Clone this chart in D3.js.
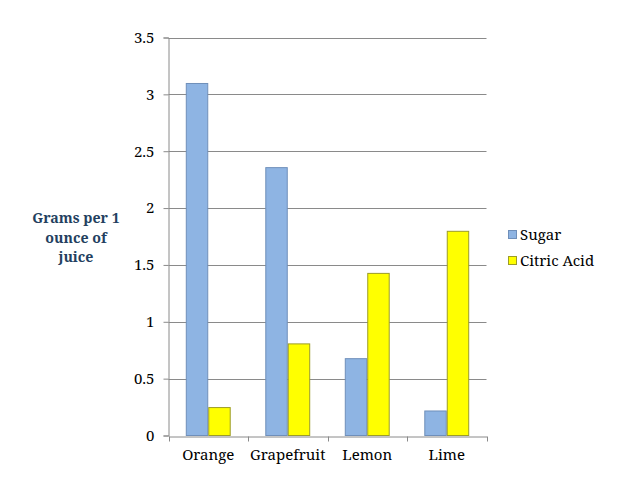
<!DOCTYPE html>
<html><head><meta charset="utf-8">
<script src="https://cdn.jsdelivr.net/npm/d3@7"></script>
<style>body{margin:0;background:#fff}svg{display:block}</style>
</head><body>
<svg id="c" width="640" height="483"></svg>
<script>
const categories = ["Orange", "Grapefruit", "Lemon", "Lime"];
const seriesNames = ["Sugar", "Citric Acid"];
const sugar = [3.1, 2.36, 0.68, 0.22];
const citricAcid = [0.25, 0.81, 1.43, 1.8];
const yTicks = [0, 0.5, 1, 1.5, 2, 2.5, 3, 3.5];
const yTickLabels = ["0", "0.5", "1", "1.5", "2", "2.5", "3", "3.5"];
const yTitleLines = ["Grams per 1", "ounce of", "juice"];

const colors = ["#8EB4E3", "#FFFF00"];
const strokes = ["#6F8FBA", "#9C9C28"];
const font = '"Noto Serif"';
const fs = "15px";

const svg = d3.select("#c");
const x0 = 168.5, x1 = 486.5, yTop = 37.5, yBot = 435.5;
const x = d3.scaleBand().domain(categories).range([x0, x1]).paddingInner(0).paddingOuter(0);
const y = d3.scaleLinear().domain([0, 3.5]).range([yBot, yTop]);
const xs = d3.scaleBand().domain(seriesNames).range([0, x.bandwidth()]).paddingInner(0).paddingOuter(0.77);

// gridlines
svg.append("g").selectAll("line").data(yTicks.filter(d => d > 0)).join("line")
  .attr("x1", x0).attr("x2", x1)
  .attr("y1", d => Math.round(y(d)) + 0.5).attr("y2", d => Math.round(y(d)) + 0.5)
  .attr("stroke", "#8a8a8a").attr("stroke-width", 1);

// y axis
const yAxis = d3.axisLeft(y).tickValues(yTicks).tickFormat((d, i) => yTickLabels[i]).tickSize(5).tickPadding(9);
const gy = svg.append("g").attr("transform", `translate(${x0},0)`).call(yAxis);
gy.select(".domain").attr("stroke", "#8a8a8a");
gy.selectAll(".tick line").attr("stroke", "#8a8a8a");
gy.selectAll(".tick text").style("font-family", font).style("font-size", fs).attr("fill", "#000");

// bars
const data = [sugar, citricAcid];
seriesNames.forEach((s, si) => {
  svg.append("g").selectAll("rect").data(categories).join("rect")
    .attr("x", c => x(c) + xs(s) + 0.5)
    .attr("y", (c, i) => y(data[si][i]) + 0.5)
    .attr("width", xs.bandwidth() - 1)
    .attr("height", (c, i) => yBot - y(data[si][i]) - 0.5)
    .attr("fill", colors[si]).attr("stroke", strokes[si]).attr("stroke-width", 1);
});

// x axis
const xAxis = d3.axisBottom(x).tickSize(0).tickPadding(13);
const gx = svg.append("g").attr("transform", `translate(0,${Math.round(yBot)+0.5})`).call(xAxis);
gx.select(".domain").attr("stroke", "#8a8a8a");
gx.selectAll(".tick text").style("font-family", font).style("font-size", fs).attr("fill", "#000");
const bounds = [x0].concat(categories.map(c => x(c) + x.bandwidth()));
gx.append("g").selectAll("line").data(bounds).join("line")
  .attr("x1", d => Math.round(d) + 0.5).attr("x2", d => Math.round(d) + 0.5)
  .attr("y1", 0).attr("y2", 5).attr("stroke", "#8a8a8a");

// y title (three lines)
svg.append("g").selectAll("text").data(yTitleLines).join("text")
  .attr("x", 76).attr("y", (d, i) => 223 + i * 19.5)
  .attr("text-anchor", "middle").style("font-family", font).style("font-size", "14.2px")
  .attr("font-weight", "bold").attr("fill", "#243F60").text(d => d);

// legend
const lg = svg.append("g").attr("transform", "translate(508,229)");
seriesNames.forEach((s, i) => {
  lg.append("rect").attr("x", 0.5).attr("y", i * 26 + 1.5).attr("width", 8).attr("height", 8)
    .attr("fill", colors[i]).attr("stroke", strokes[i]);
  lg.append("text").attr("x", 12).attr("y", i * 26 + 11).style("font-family", font)
    .style("font-size", fs).attr("fill", "#000").text(s);
});
</script>
</body></html>
